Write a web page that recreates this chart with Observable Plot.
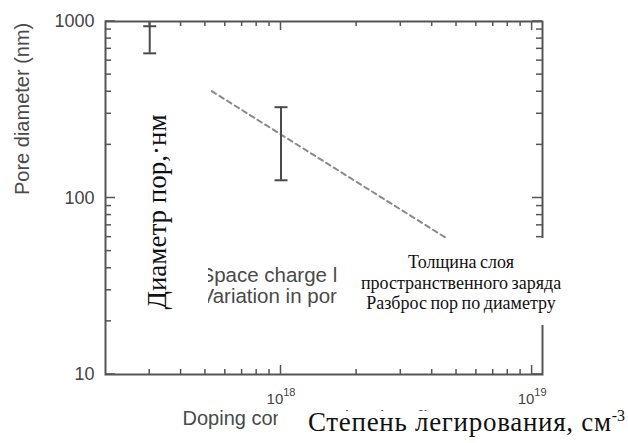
<!DOCTYPE html>
<html>
<head>
<meta charset="utf-8">
<script src="https://cdn.jsdelivr.net/npm/d3@7"></script>
<script src="https://cdn.jsdelivr.net/npm/@observablehq/plot@0.6"></script>
<style>
  html, body { margin: 0; padding: 0; background: #fff; }
  #wrap { position: relative; width: 628px; height: 443px; overflow: hidden; }
  .cover { position: absolute; background: #fff; }
  .ru { position: absolute; font-family: "Liberation Serif", "Times New Roman", serif; color: #111; white-space: nowrap; }
</style>
</head>
<body>
<div id="wrap">
  <div id="chart"></div>
  <div class="cover" style="left:118px; top:60px; width:90px; height:300px;"></div>
  <div class="ru" style="left:157px; top:212px; font-size:27px; line-height:27px; transform: translate(-50%,-50%) rotate(-90deg);">Диаметр пор,·нм</div>
  <div class="cover" style="left:337px; top:238px; width:250px; height:87px;"></div>
  <div class="ru" style="left:341px; top:252px; width:240px; text-align:center; font-size:18px; line-height:20.5px; word-spacing:-1px;">Толщина слоя<br>пространственного заряда<br>Разброс пор по диаметру</div>
  <div class="cover" style="left:278px; top:411px; width:350px; height:32px;"></div>
  <div class="ru" style="left:308px; top:409px; font-size:27px; line-height:27px; letter-spacing:0.7px;">Степень легирования, см<sup style="font-size:16px; vertical-align: 10px; line-height:0; letter-spacing:0">-3</sup></div>
</div>
<script>
// ---- data ----
const xMajor = [1e18, 1e19];
const xMinor = [3e17, 4e17, 5e17, 6e17, 7e17, 8e17, 9e17, 2e18, 3e18, 4e18, 5e18, 6e18, 7e18, 8e18, 9e18];
const xTickBase = ["10", "10"];
const xTickExp = ["18", "19"];
const yMajor = [10, 100, 1000];
const yMinor = [20, 30, 40, 50, 60, 70, 80, 90, 200, 300, 400, 500, 600, 700, 800, 900];
const yTickLabels = ["10", "100", "1000"];

const barX = [3e17, 1e18];
const barLow = [660, 126];
const barHigh = [1000, 327];
const capX = [3e17, 3e17, 1e18, 1e18];
const capY = [940, 660, 327, 126];

const lineX = [5.3e17, 1.1e19];
const lineY = [403, 27];

const legendLabels = ["Space charge layer", "Variation in pore diameter"];
const xTitle = "Doping concentration (cm\u207b\u00b3)";
const yTitle = "Pore diameter (nm)";

// ---- build ----
const W = 628, H = 443, mL = 105, mR = 86, mT = 21, mB = 69;
const ink = "#555";
const bars = barX.map((x, i) => ({x, lo: barLow[i], hi: barHigh[i]}));
const caps = capX.map((x, i) => ({x, y: capY[i]}));
const dash = lineX.map((x, i) => ({x, y: lineY[i]}));
const hLine = {draw(ctx, size) { const w = Math.sqrt(size / Math.PI); ctx.moveTo(-w, 0); ctx.lineTo(w, 0); }};

const chart = Plot.plot({
  width: W, height: H,
  marginLeft: mL, marginRight: mR, marginTop: mT, marginBottom: mB,
  style: {fontFamily: "Liberation Sans, Arial, sans-serif", color: "#444", background: "#fff"},
  x: {type: "log", domain: [2e17, 1.1e19]},
  y: {type: "log", domain: [10, 1000]},
  marks: [
    // tick labels
    Plot.axisX(xMajor, {tickSize: 0, tickPadding: 19, fontSize: 15, label: null,
      tickFormat: d => xTickBase[xMajor.indexOf(d)] + "^" + xTickExp[xMajor.indexOf(d)]}),
    Plot.axisY(yMajor, {tickSize: 0, tickPadding: 11, fontSize: 18, label: null,
      tickFormat: d => yTickLabels[yMajor.indexOf(d)]}),
    // axis titles
    Plot.text([yTitle], {frameAnchor: "left", text: d => d, rotate: -90, dx: -83, dy: -3, fontSize: 20, fill: "#4a4a4a"}),
    Plot.text([xTitle], {frameAnchor: "bottom-left", text: d => d, textAnchor: "start", dx: 77, dy: 50, fontSize: 20, fill: "#4a4a4a"}),
    // legend text
    Plot.text([legendLabels.join("\n")], {frameAnchor: "top-left", text: d => d, textAnchor: "start", lineAnchor: "top", lineHeight: 1.04, dx: 95, dy: 245, fontSize: 20.5, fill: "#4a4a4a"}),
    // dashed space-charge line
    Plot.line(dash, {x: "x", y: "y", stroke: "#8a8a8a", strokeWidth: 2, strokeDasharray: "5,4"}),
    // error bars
    Plot.ruleX(bars, {x: "x", y1: "lo", y2: "hi", stroke: "#4a4a4a", strokeWidth: 2}),
    Plot.dot(caps, {x: "x", y: "y", symbol: hLine, r: 6.5, stroke: "#4a4a4a", strokeWidth: 2, fill: "none"}),
    Plot.frame({stroke: ink, strokeWidth: 2})
  ]
});

// render exponent labels as base + superscript
d3.select(chart).selectAll('g[aria-label="x-axis tick label"] text').each(function() {
  const t = d3.select(this);
  const [b, e] = t.text().split("^");
  t.text(null);
  t.append("tspan").text(b);
  t.append("tspan").attr("font-size", 11).attr("dy", "-0.7em").text(e);
});

// inward ticks on all four sides, placed with the plot's own scales
const sx = chart.scale("x"), sy = chart.scale("y");
const fLeft = mL, fRight = W - mR, fTop = mT, fBottom = H - mB;
const tg = d3.select(chart).append("g").attr("aria-label", "inward ticks")
  .attr("stroke", ink).attr("stroke-width", 1.5).attr("fill", "none");
const xTicks = xMinor.map(v => ({v, len: 5})).concat(xMajor.map(v => ({v, len: 9})));
const yTicks = yMinor.map(v => ({v, len: 6})).concat(yMajor.map(v => ({v, len: 10})));
for (const {v, len} of xTicks) {
  const px = sx.apply(v);
  tg.append("line").attr("x1", px).attr("x2", px).attr("y1", fBottom).attr("y2", fBottom - len);
  tg.append("line").attr("x1", px).attr("x2", px).attr("y1", fTop).attr("y2", fTop + len);
}
for (const {v, len} of yTicks) {
  const py = sy.apply(v);
  tg.append("line").attr("y1", py).attr("y2", py).attr("x1", fLeft).attr("x2", fLeft + len);
  tg.append("line").attr("y1", py).attr("y2", py).attr("x1", fRight).attr("x2", fRight - len);
}

document.getElementById("chart").appendChild(chart);
</script>
</body>
</html>
